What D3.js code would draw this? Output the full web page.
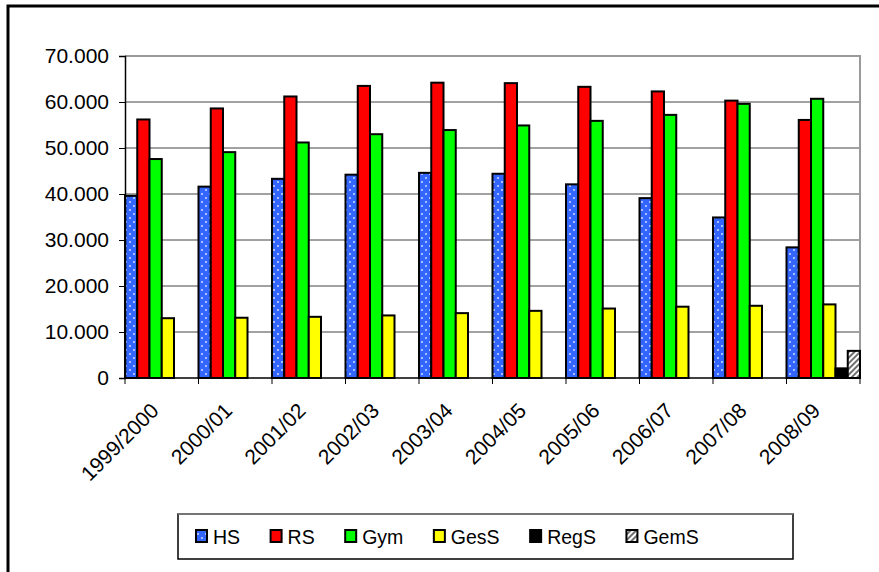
<!DOCTYPE html>
<html><head><meta charset="utf-8">
<script src="https://cdn.jsdelivr.net/npm/d3@7"></script>
<style>
html,body{margin:0;padding:0;background:#fff;}
svg{display:block;font-family:"Liberation Sans",Arial,sans-serif;}
</style></head>
<body>
<svg id="chart" width="879" height="572"></svg>
<script>
const categories = ["1999/2000","2000/01","2001/02","2002/03","2003/04","2004/05","2005/06","2006/07","2007/08","2008/09"];
const seriesNames = ["HS","RS","Gym","GesS","RegS","GemS"];
const HS   = [39600, 41600, 43300, 44200, 44600, 44400, 42100, 39100, 34900, 28400];
const RS   = [56200, 58600, 61200, 63500, 64200, 64100, 63300, 62300, 60300, 56100];
const Gym  = [47600, 49100, 51200, 53000, 53900, 54900, 55900, 57200, 59600, 60700];
const GesS = [13000, 13100, 13300, 13600, 14100, 14600, 15100, 15500, 15700, 16000];
const RegS = [null, null, null, null, null, null, null, null, null, 2100];
const GemS = [null, null, null, null, null, null, null, null, null, 5900];
const yTicks = [0, 10000, 20000, 30000, 40000, 50000, 60000, 70000];
const seriesValues = [HS, RS, Gym, GesS, RegS, GemS];

const fills = {HS:"url(#dots)", RS:"#ff0000", Gym:"#00ff00", GesS:"#ffff00", RegS:"#000000", GemS:"url(#hatch)"};

const svg = d3.select("#chart");
const defs = svg.append("defs");
const dots = defs.append("pattern").attr("id","dots").attr("patternUnits","userSpaceOnUse")
  .attr("width",8).attr("height",8);
dots.append("rect").attr("width",8).attr("height",8).attr("fill","#3366ff");
dots.append("circle").attr("cx",2).attr("cy",2).attr("r",0.9).attr("fill","#dde6ff");
dots.append("circle").attr("cx",6).attr("cy",6).attr("r",0.9).attr("fill","#dde6ff");
const hatch = defs.append("pattern").attr("id","hatch").attr("patternUnits","userSpaceOnUse")
  .attr("width",4).attr("height",4).attr("patternTransform","rotate(45)");
hatch.append("rect").attr("width",4).attr("height",4).attr("fill","#ffffff");
hatch.append("line").attr("x1",1).attr("y1",0).attr("x2",1).attr("y2",4).attr("stroke","#333").attr("stroke-width",1.4);

// outer chart border
svg.append("rect").attr("x",8).attr("y",6).attr("width",900).attr("height",600)
  .attr("fill","none").attr("stroke","#000").attr("stroke-width",3);

const x0 = d3.scaleBand().domain(categories).range([125, 860]).padding(0);
const x1 = d3.scaleBand().domain(seriesNames).range([0, x0.bandwidth()]).padding(0);
const y = d3.scaleLinear().domain([0, 70000]).range([378, 56]);

const loc = d3.formatLocale({decimal:",", thousands:".", grouping:[3], currency:["","€"]});
const fmt = loc.format(",d");

// gridlines
svg.append("g").selectAll("line").data(yTicks.filter(d => d > 0 && d < 70000)).join("line")
  .attr("x1",125).attr("x2",860).attr("y1",d=>y(d)).attr("y2",d=>y(d))
  .attr("stroke","#444").attr("stroke-width",1);
// plot area top/right border
svg.append("path").attr("d",`M125,${y(70000)}H860V${y(0)}`).attr("fill","none")
  .attr("stroke","#9a9a9a").attr("stroke-width",2);

// bars
const barData = [];
categories.forEach((c,i) => {
  seriesNames.forEach((s,j) => {
    const v = seriesValues[j][i];
    if (v != null) barData.push({c, s, v});
  });
});
svg.append("g").selectAll("rect").data(barData).join("rect")
  .attr("x", d => x0(d.c) + x1(d.s))
  .attr("y", d => y(d.v))
  .attr("width", x1.bandwidth())
  .attr("height", d => y(0) - y(d.v))
  .attr("fill", d => fills[d.s])
  .attr("stroke","#000").attr("stroke-width",2);

// y axis
const yAxis = d3.axisLeft(y).tickValues(yTicks).tickFormat(d => fmt(d)).tickSize(6).tickPadding(10);
const ya = svg.append("g").attr("transform","translate(125,0)").call(yAxis);
ya.select(".domain").attr("stroke","#000").attr("stroke-width",1.5);
ya.selectAll(".tick line").attr("stroke","#000");
ya.selectAll("text").attr("font-size",21).attr("fill","#000")
  .attr("font-family","'Liberation Sans',Arial,sans-serif");

// x axis with ticks at category boundaries
svg.append("line").attr("x1",125).attr("x2",860).attr("y1",378).attr("y2",378)
  .attr("stroke","#000").attr("stroke-width",1.5);
const bounds = categories.map(c => x0(c)).concat([x0.range()[1]]);
svg.append("g").selectAll("line").data(bounds).join("line")
  .attr("x1",d=>d).attr("x2",d=>d).attr("y1",378).attr("y2",384)
  .attr("stroke","#000").attr("stroke-width",1);
svg.append("g").selectAll("text").data(categories).join("text")
  .attr("transform", d => `translate(${x0(d) + 35},${412}) rotate(-45)`)
  .attr("text-anchor","end")
  .attr("font-size",21).attr("fill","#000")
  .text(d => d);

// legend
const lg = svg.append("g");
lg.append("rect").attr("x",178).attr("y",514).attr("width",615).attr("height",45)
  .attr("fill","#fff").attr("stroke","#000").attr("stroke-width",1.5);
lg.append("line").attr("x1",178).attr("x2",793).attr("y1",514).attr("y2",514)
  .attr("stroke","#888").attr("stroke-width",1.5);
let lx = 196;
seriesNames.forEach(s => {
  lg.append("rect").attr("x",lx).attr("y",530).attr("width",11).attr("height",12)
    .attr("fill",fills[s]).attr("stroke","#000").attr("stroke-width",2);
  const t = lg.append("text").attr("x",lx+17).attr("y",543.5).attr("font-size",19.5)
    .attr("fill","#000").text(s);
  lx += 17 + t.node().getComputedTextLength() + 30.5;
});
</script>
</body></html>
